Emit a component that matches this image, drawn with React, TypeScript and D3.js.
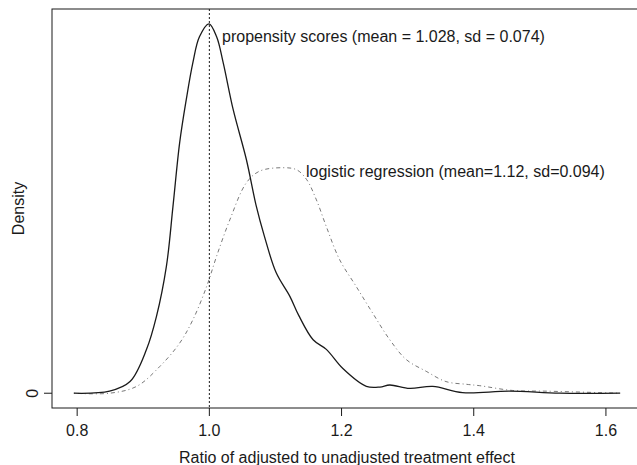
import React from 'react';
import * as d3 from 'd3';

// density estimates
const propX = [0.795, 0.849, 0.88, 0.905, 0.92, 0.935, 0.945, 0.955, 0.965, 0.975, 0.985, 0.9995, 1.011, 1.021, 1.036, 1.056, 1.071, 1.083, 1.101, 1.122, 1.135, 1.157, 1.177, 1.202, 1.2375, 1.258, 1.273, 1.303, 1.338, 1.383, 1.454, 1.53, 1.6215];
const propY = [0.0, 0.03, 0.17, 0.64, 1.12, 1.85, 2.73, 3.65, 4.28, 4.82, 5.2, 5.39, 5.2, 4.82, 4.14, 3.41, 2.73, 2.3, 1.76, 1.41, 1.14, 0.78, 0.64, 0.36, 0.1, 0.09, 0.12, 0.07, 0.1, 0.01, 0.03, 0.0, 0.0];

const logitX = [0.795, 0.849, 0.89, 0.925, 0.955, 0.975, 0.996, 1.011, 1.031, 1.056, 1.076, 1.111, 1.132, 1.147, 1.162, 1.177, 1.197, 1.222, 1.247, 1.273, 1.298, 1.328, 1.358, 1.389, 1.409, 1.459, 1.51, 1.6215];
const logitY = [0.0, 0.0, 0.1, 0.39, 0.73, 1.07, 1.56, 2.0, 2.53, 3.07, 3.24, 3.29, 3.26, 3.12, 2.82, 2.43, 1.95, 1.56, 1.17, 0.78, 0.49, 0.32, 0.17, 0.13, 0.11, 0.04, 0.03, 0.0];

const xTicks = [0.8, 1.0, 1.2, 1.4, 1.6];
const yTicks = [0];
const refLine = 1.0;
const propLabel = 'propensity scores (mean = 1.028, sd = 0.074)';
const logitLabel = 'logistic regression (mean=1.12, sd=0.094)';

export default function App() {
    const W = 637, H = 465;
    const box = { left: 52, right: 642, top: 9, bottom: 408 };
    const font = '"Liberation Sans", Arial, Helvetica, sans-serif';
    const fs = 16;

    const xMin = d3.min(propX) as number, xMax = d3.max(propX) as number;
    const xPad = (xMax - xMin) * 0.04;
    const xScale = d3.scaleLinear()
        .domain([xMin - xPad, xMax + xPad])
        .range([box.left, box.right]);

    const yMax = Math.max(d3.max(propY) as number, d3.max(logitY) as number);
    const yScale = d3.scaleLinear()
        .domain([-0.04 * yMax, 1.04 * yMax])
        .range([box.bottom, box.top]);

    const line = d3.line<[number, number]>()
        .x(d => xScale(d[0]))
        .y(d => yScale(d[1]))
        .curve(d3.curveCatmullRom.alpha(0.5));

    const propPath = line(propX.map((x, i) => [x, propY[i]]) as [number, number][]) || '';
    const logitPath = line(logitX.map((x, i) => [x, logitY[i]]) as [number, number][]) || '';

    const ink = '#1a1a1a';

    return (
        <svg width={W} height={H} style={{ position: 'absolute', left: 0, top: 0 }}>
            <rect x={0} y={0} width={W} height={H} fill="#fff" />
            <rect x={box.left} y={box.top} width={box.right - box.left} height={box.bottom - box.top}
                fill="none" stroke={ink} strokeWidth={1} />

            <line x1={xScale(refLine)} x2={xScale(refLine)} y1={box.top} y2={box.bottom}
                stroke={ink} strokeWidth={1} strokeDasharray="2,2" />

            <path d={logitPath} fill="none" stroke="#555" strokeWidth={0.8} strokeDasharray="1,3,4,3" />
            <path d={propPath} fill="none" stroke={ink} strokeWidth={1.3} />

            {xTicks.map(t => (
                <g key={t}>
                    <line x1={xScale(t)} x2={xScale(t)} y1={box.bottom} y2={box.bottom + 8} stroke={ink} />
                    <text x={xScale(t)} y={436} textAnchor="middle" fontFamily={font} fontSize={fs} fill={ink}>
                        {d3.format('.1f')(t)}
                    </text>
                </g>
            ))}
            {yTicks.map(t => (
                <g key={t}>
                    <line x1={box.left - 8} x2={box.left} y1={yScale(t)} y2={yScale(t)} stroke={ink} />
                    <text transform={`translate(38,${yScale(t)}) rotate(-90)`} textAnchor="middle"
                        fontFamily={font} fontSize={fs} fill={ink}>{t}</text>
                </g>
            ))}

            <text x={(box.left + box.right) / 2} y={463} textAnchor="middle" fontFamily={font} fontSize={fs} fill={ink}>
                Ratio of adjusted to unadjusted treatment effect
            </text>
            <text transform={`translate(24,${(box.top + box.bottom) / 2}) rotate(-90)`} textAnchor="middle"
                fontFamily={font} fontSize={fs} fill={ink}>Density</text>

            <text x={222} y={42} fontFamily={font} fontSize={fs} fill={ink}>{propLabel}</text>
            <text x={306} y={177} fontFamily={font} fontSize={fs} fill={ink}>{logitLabel}</text>
        </svg>
    );
}
